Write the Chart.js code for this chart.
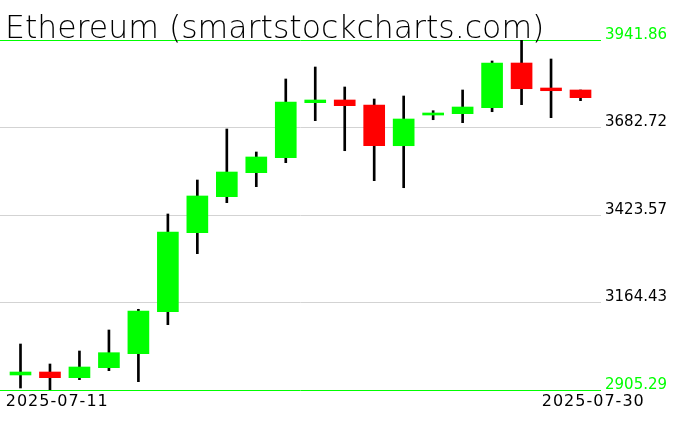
<!DOCTYPE html>
<html>
<head>
<meta charset="utf-8">
<script src="https://cdn.jsdelivr.net/npm/chart.js@4.4.1/dist/chart.umd.min.js"></script>
<style>
body { margin: 0; background: #fff; }
#wrap { width: 676px; height: 431px; }
</style>
</head>
<body>
<div id="wrap"><canvas id="chart"></canvas></div>
<script>
const title = 'Ethereum (smartstockcharts.com)';
const dates = ['2025-07-11', '2025-07-12', '2025-07-13', '2025-07-14', '2025-07-15',
    '2025-07-16', '2025-07-17', '2025-07-18', '2025-07-19', '2025-07-20',
    '2025-07-21', '2025-07-22', '2025-07-23', '2025-07-24', '2025-07-25',
    '2025-07-26', '2025-07-27', '2025-07-28', '2025-07-29', '2025-07-30'];
const opens  = [2949.8, 2958.6, 2941.8, 2971.4, 3012.8, 3137.2, 3371.2, 3477.8, 3548.9, 3593.3,
    3756.2, 3764.2, 3749.4, 3628.8, 3719.7, 3723.6, 3741.4, 3873.7, 3799.7, 3793.8];
const highs  = [3041.5, 2982.3, 3020.8, 3083.0, 3144.3, 3426.6, 3527.2, 3678.3, 3610.2, 3826.4,
    3861.9, 3802.7, 3767.1, 3776.0, 3732.5, 3793.8, 3879.7, 3941.86, 3885.6, 3793.8];
const lows   = [2911.2, 2905.29, 2935.8, 2962.5, 2929.9, 3098.7, 3309.0, 3460.0, 3507.4, 3578.5,
    3702.9, 3614.0, 3525.2, 3504.4, 3705.8, 3697.0, 3729.5, 3750.3, 3711.8, 3762.1];
const closes = [2958.6, 2941.8, 2973.4, 3015.8, 3139.3, 3373.3, 3479.9, 3550.9, 3595.4, 3758.3,
    3764.2, 3747.3, 3628.8, 3707.9, 3725.7, 3743.4, 3873.7, 3797.6, 3791.7, 3771.0];
const yTicks = [2905.29, 3164.43, 3423.57, 3682.72, 3941.86];

const GREEN = '#00ff00';
const RED = '#ff0000';
const FONT = 'DejaVu Sans';

// title sits on the top line, dates only at both ends
const textPlugin = {
    id: 'textPlugin',
    afterDraw(chart) {
        const x = chart.scales.x;
        const ctx = chart.ctx;
        const bottom = chart.chartArea.bottom;
        ctx.save();
        ctx.fillStyle = '#000';
        ctx.font = '200 31.5px "' + FONT + '"';
        ctx.textBaseline = 'alphabetic';
        ctx.textAlign = 'left';
        ctx.fillText(title, 5, 38);

        ctx.font = '16px "' + FONT + '"';
        ctx.letterSpacing = '1px';
        ctx.textBaseline = 'top';
        ctx.fillText(dates[0], x.getPixelForValue(-0.5), bottom + 4);
        ctx.textAlign = 'center';
        ctx.fillText(dates[dates.length - 1], x.getPixelForValue(dates.length - 0.5) - 2, bottom + 4);
        ctx.restore();
    }
};

const bodies = dates.map((d, i) => ({ x: i, y: [opens[i], closes[i]] }));
const wicks = dates.map((d, i) => ({ x: i, y: [lows[i], highs[i]] }));
const bodyColors = dates.map((d, i) => closes[i] >= opens[i] ? GREEN : RED);

new Chart(document.getElementById('chart'), {
    type: 'bar',
    data: {
        datasets: [{
            data: bodies,
            backgroundColor: bodyColors,
            barThickness: 21,
            grouped: false
        }, {
            data: wicks,
            backgroundColor: '#000',
            barThickness: 2,
            grouped: false
        }]
    },
    options: {
        responsive: true,
        maintainAspectRatio: false,
        animation: false,
        layout: { padding: { top: 40 } },
        plugins: {
            legend: { display: false },
            tooltip: { enabled: false }
        },
        scales: {
            x: {
                type: 'linear',
                min: -0.6955,
                max: 19.695,
                offset: false,
                grid: { display: false },
                border: { display: false },
                ticks: { display: false },
                afterFit(scale) { scale.height = 41; }
            },
            y: {
                position: 'right',
                min: yTicks[0],
                max: yTicks[yTicks.length - 1],
                afterBuildTicks(scale) { scale.ticks = yTicks.map(v => ({ value: v })); },
                afterFit(scale) { scale.width = 75; },
                border: { display: false },
                grid: {
                    drawTicks: false,
                    color: ctx => (ctx.index === 0 || ctx.index === yTicks.length - 1) ? GREEN : '#d3d3d3'
                },
                ticks: {
                    padding: 4,
                    labelOffset: -5,
                    font: { family: FONT, size: 15 },
                    color: ctx => (ctx.index === 0 || ctx.index === yTicks.length - 1) ? GREEN : '#000',
                    callback: v => v.toFixed(2)
                }
            }
        }
    },
    plugins: [textPlugin]
});
</script>
</body>
</html>
